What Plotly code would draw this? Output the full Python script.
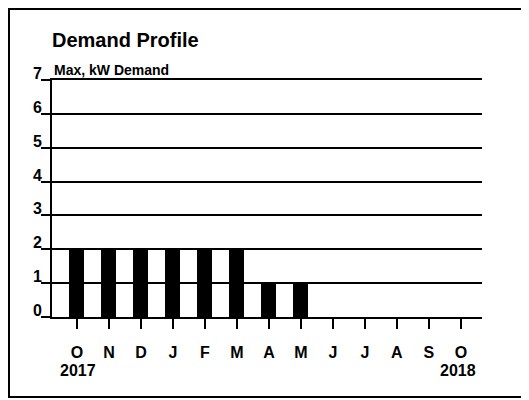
import plotly.graph_objects as go

# monthly max demand, Oct 2017 - Oct 2018
months = ['O', 'N', 'D', 'J', 'F', 'M', 'A', 'M', 'J', 'J', 'A', 'S', 'O']
demand = [2, 2, 2, 2, 2, 2, 1, 1, 0, 0, 0, 0, 0]
y_ticks = [0, 1, 2, 3, 4, 5, 6, 7]

x_pos = list(range(len(months)))
font = 'Liberation Sans, Arial, sans-serif'

# page body adds 8px margin, so the figure is 8px smaller and shifted
W, H = 521, 392
L, T, R, B = 44, 72, 47, 83
pw, ph = W - L - R, H - T - B

fig = go.Figure()
fig.add_trace(go.Bar(x=x_pos, y=demand, width=0.47,
                     marker=dict(color='black', line=dict(width=0))))

fig.update_layout(
    width=W, height=H,
    margin=dict(l=L, r=R, t=T, b=B),
    plot_bgcolor='white', paper_bgcolor='white',
    font=dict(family=font, color='black', size=14),
    showlegend=False,
    bargap=0,
    title=dict(text='<b>Demand Profile</b>', x=L / W, xanchor='left',
               y=1 - 32 / H, yanchor='middle', font=dict(size=20, family=font)),
    xaxis=dict(
        tickmode='array', tickvals=x_pos, ticktext=['<b>%s</b>' % m for m in months],
        range=[-0.78, 12.66], showgrid=False, zeroline=False,
        showline=True, linecolor='black', linewidth=2, mirror=True,
        ticks='outside', ticklen=10, tickwidth=2, tickcolor='black',
        ticklabelstandoff=10,
        tickfont=dict(size=16), fixedrange=True,
    ),
    yaxis=dict(
        tickmode='array', tickvals=y_ticks, ticktext=['' for v in y_ticks],
        range=[0, 7], showgrid=True, gridcolor='black', gridwidth=1.5,
        zeroline=False, showline=True, linecolor='black', linewidth=2,
        ticks='outside', ticklen=9, tickwidth=1.5, tickcolor='black',
        fixedrange=True,
    ),
)

# y labels sit on top of their gridlines
for v in y_ticks:
    fig.add_annotation(text='<b>%d</b>' % v, xref='paper', yref='y',
                       x=0, y=v, xanchor='right', yanchor='bottom',
                       xshift=-8, yshift=-4, showarrow=False,
                       font=dict(size=16, family=font))

fig.add_annotation(text='<b>Max, kW Demand</b>', xref='paper', yref='paper',
                   x=0, y=1, xanchor='left', yanchor='bottom', yshift=0,
                   showarrow=False, font=dict(size=14, family=font))
fig.add_annotation(text='<b>2017</b>', xref='paper', yref='paper',
                   x=(58 - 52) / pw, y=-53 / ph, xanchor='left', yanchor='middle',
                   showarrow=False, font=dict(size=16, family=font))
fig.add_annotation(text='<b>2018</b>', xref='paper', yref='paper',
                   x=(478 - 52) / pw, y=-53 / ph, xanchor='right', yanchor='middle',
                   showarrow=False, font=dict(size=16, family=font))

# scanned frame around the chart
fig.add_shape(type='rect', xref='paper', yref='paper',
              x0=(1 - L) / pw, x1=(519 - L) / pw, y0=-80 / ph, y1=1 + (T - 1) / ph,
              line=dict(color='black', width=2))

fig.write_html("out.html")
